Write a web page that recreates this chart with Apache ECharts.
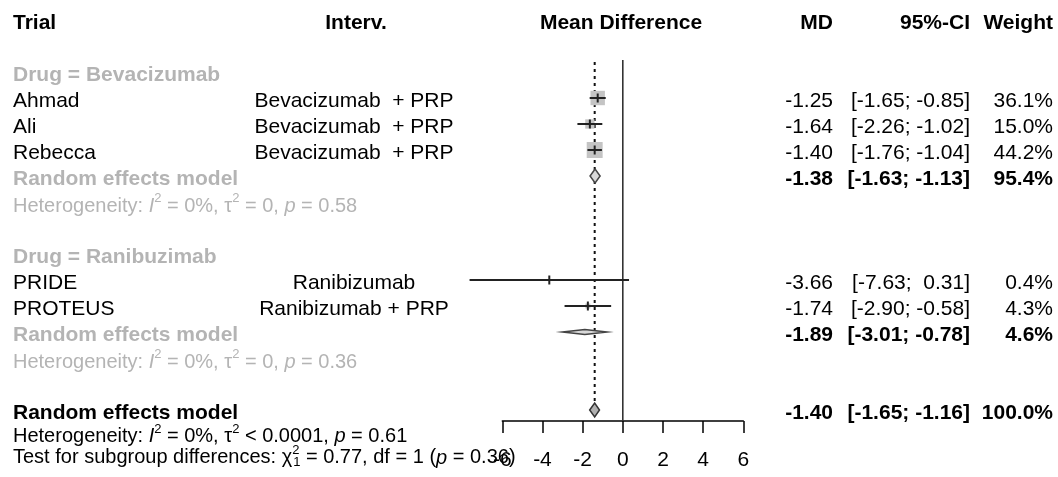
<!DOCTYPE html>
<html><head><meta charset="utf-8">
<script src="https://cdn.jsdelivr.net/npm/echarts@6/dist/echarts.min.js"></script>
<style>html,body{margin:0;padding:0;background:#fff}#c{width:1058px;height:477px}</style>
</head><body><div id="c"></div>
<script>
// ---------- data ----------
const trials = ['Ahmad', 'Ali', 'Rebecca', 'PRIDE', 'PROTEUS'];
const interventions = ['Bevacizumab  + PRP', 'Bevacizumab  + PRP', 'Bevacizumab  + PRP', 'Ranibizumab', 'Ranibizumab + PRP'];
const studyGroup = [0, 0, 0, 1, 1];
const studyMD = [-1.25, -1.64, -1.40, -3.66, -1.74];
const studyLower = [-1.65, -2.26, -1.76, -7.63, -2.90];
const studyUpper = [-0.85, -1.02, -1.04, 0.31, -0.58];
const studyWeight = [36.1, 15.0, 44.2, 0.4, 4.3];
const groupNames = ['Drug = Bevacizumab', 'Drug = Ranibuzimab'];
const groupMD = [-1.38, -1.89];
const groupLower = [-1.63, -3.01];
const groupUpper = [-1.13, -0.78];
const groupWeight = [95.4, 4.6];
const groupI2 = ['0%', '0%'];
const groupTau2 = ['= 0', '= 0'];
const groupP = ['0.58', '0.36'];
const overallMD = -1.40;
const overallLower = -1.65;
const overallUpper = -1.16;
const overallWeight = 100.0;
const overallI2 = '0%';
const overallTau2 = '< 0.0001';
const overallP = '0.61';
const testChi2 = '0.77';
const testDf = '1';
const testP = '0.36';
const xTicks = [-6, -4, -2, 0, 2, 4, 6];
const headers = ['Trial', 'Interv.', 'Mean Difference', 'MD', '95%-CI', 'Weight'];

// ---------- layout / style ----------
const FONT = 'Liberation Sans, Arial, Helvetica, sans-serif';
const GRID_TOP = 20, ROW_H = 26, AXIS_Y = 421;
const GRAY_TXT = '#b4b4b4';
const rowY = r => GRID_TOP + r * ROW_H;
const TXT_OFF = 3;
const SMALL = 20;

// build row structure
let row = 2;
const studyRow = [], groupLabelRow = [], groupRERow = [], groupHetRow = [];
for (let g = 0; g < groupNames.length; g++) {
  groupLabelRow.push(row++);
  studyGroup.forEach((sg, i) => { if (sg === g) studyRow[i] = row++; });
  groupRERow.push(row++);
  groupHetRow.push(row++);
  row++;
}
const overallRow = row;
const overallHetRow = overallRow + 0.92;
const testRow = overallRow + 1.73;

const f2 = v => v.toFixed(2);
const pad = (s, n) => (' '.repeat(Math.max(0, n - s.length))) + s;
const ci = (l, u) => '[' + pad(f2(l), 5) + '; ' + pad(f2(u), 5) + ']';
const wt = w => w.toFixed(1) + '%';

// ---------- texts ----------
const graphics = [];
function txt(x, y, s, o) {
  o = o || {};
  graphics.push({
    type: 'text', x: x, y: y, silent: true,
    style: Object.assign({
      text: s, fill: o.color || '#000',
      fontSize: o.size || 21, fontFamily: FONT, fontWeight: o.bold ? 'bold' : 'normal',
      align: o.align || 'left', textAlign: o.align || 'left',
      verticalAlign: 'middle', textVerticalAlign: 'middle'
    }, o.rich ? { rich: o.rich } : {})
  });
}
const COL = { trial: 13, interv: 354, md: 833, ci: 970, w: 1053 };
// headers
txt(COL.trial, 23, headers[0], { bold: true });
txt(356, 23, headers[1], { bold: true, align: 'center' });
txt(621, 23, headers[2], { bold: true, align: 'center' });
txt(COL.md, 23, headers[3], { bold: true, align: 'right' });
txt(COL.ci, 23, headers[4], { bold: true, align: 'right' });
txt(COL.w, 23, headers[5], { bold: true, align: 'right' });

function richFor(color, size) {
  const base = { fontFamily: FONT, fill: color, color: color };
  return {
    i: Object.assign({ fontStyle: 'italic', fontSize: size }, base),
    s: Object.assign({ fontSize: 13, padding: [0, 0, 15, 0] }, base),
    s0: Object.assign({ fontSize: 13, padding: [0, 0, 15, 0], width: 1 }, base),
    b: Object.assign({ fontSize: 13, padding: [9, 0, 0, 0] }, base),
    n: Object.assign({ fontSize: size }, base)
  };
}
function hetText(I2, tau2, p) {
  return '{n|Heterogeneity: }{i|I}{s|2}{n| = ' + I2 + ', τ}{s|2}{n| ' + tau2 + ', }{i|p}{n| = ' + p + '}';
}

for (let g = 0; g < groupNames.length; g++) {
  txt(COL.trial, rowY(groupLabelRow[g]) + TXT_OFF, groupNames[g], { bold: true, color: GRAY_TXT });
  txt(COL.trial, rowY(groupRERow[g]) + TXT_OFF, 'Random effects model', { bold: true, color: GRAY_TXT });
  txt(COL.md, rowY(groupRERow[g]) + TXT_OFF, f2(groupMD[g]), { bold: true, align: 'right' });
  txt(COL.ci, rowY(groupRERow[g]) + TXT_OFF, ci(groupLower[g], groupUpper[g]), { bold: true, align: 'right' });
  txt(COL.w, rowY(groupRERow[g]) + TXT_OFF, wt(groupWeight[g]), { bold: true, align: 'right' });
  txt(COL.trial, rowY(groupHetRow[g]) + TXT_OFF + 1, hetText(groupI2[g], groupTau2[g], groupP[g]),
      { size: SMALL, color: GRAY_TXT, rich: richFor(GRAY_TXT, SMALL) });
}
trials.forEach((t, i) => {
  const y = rowY(studyRow[i]) + TXT_OFF;
  txt(COL.trial, y, t);
  txt(COL.interv, y, interventions[i], { align: 'center' });
  txt(COL.md, y, f2(studyMD[i]), { align: 'right' });
  txt(COL.ci, y, ci(studyLower[i], studyUpper[i]), { align: 'right' });
  txt(COL.w, y, wt(studyWeight[i]), { align: 'right' });
});
{
  const y = rowY(overallRow) + TXT_OFF;
  txt(COL.trial, y, 'Random effects model', { bold: true });
  txt(COL.md, y, f2(overallMD), { bold: true, align: 'right' });
  txt(COL.ci, y, ci(overallLower, overallUpper), { bold: true, align: 'right' });
  txt(COL.w, y, wt(overallWeight), { bold: true, align: 'right' });
  txt(COL.trial, rowY(overallHetRow) + TXT_OFF, hetText(overallI2, overallTau2, overallP),
      { size: SMALL, rich: richFor('#000', SMALL) });
  txt(COL.trial, rowY(testRow) + TXT_OFF,
      '{n|Test for subgroup differences: χ}{s0|2}{b|1}{n| = ' + testChi2 + ', df = ' + testDf + ' (}{i|p}{n| = ' + testP + ')}',
      { size: SMALL, rich: richFor('#000', SMALL) });
}

// ---------- marks ----------
const BOX_K = 2.4;
const studyData = trials.map((t, i) => [studyMD[i], studyRow[i], studyLower[i], studyUpper[i], studyWeight[i]]);
const diamondData = groupNames.map((g, i) => [groupMD[i], groupRERow[i], groupLower[i], groupUpper[i], i === 0 ? 7 : 2.5, 0]);
diamondData.push([overallMD, overallRow, overallLower, overallUpper, 7, 1]);

const chart = echarts.init(document.getElementById('c'), null, { renderer: 'canvas' });
const yMax = (AXIS_Y - GRID_TOP) / ROW_H;
chart.setOption({
  animation: false,
  backgroundColor: '#fff',
  grid: { left: 502.3, width: 241, top: GRID_TOP, height: AXIS_Y - GRID_TOP, containLabel: false },
  xAxis: {
    type: 'value', min: xTicks[0], max: xTicks[xTicks.length - 1], interval: 2,
    axisLine: { show: true, onZero: false, lineStyle: { color: '#000', width: 1.5 } },
    axisTick: { show: true, length: 12, lineStyle: { color: '#000', width: 1.5 } },
    axisLabel: { fontSize: 21, color: '#000', fontFamily: FONT, margin: 29, showMinLabel: true, showMaxLabel: true },
    splitLine: { show: false }
  },
  yAxis: { type: 'value', min: 0, max: yMax, inverse: true, show: false },
  graphic: graphics,
  series: [
    { // reference lines
      type: 'custom', silent: true, z: 1,
      data: [[0, 1.54, yMax, 0], [overallMD, 1.62, overallRow - 0.25, 1]],
      renderItem: (p, api) => {
        const a = api.coord([api.value(0), api.value(1)]);
        const b = api.coord([api.value(0), api.value(2)]);
        const dotted = api.value(3) === 1;
        return { type: 'line', shape: { x1: a[0], y1: a[1], x2: b[0], y2: b[1] },
          style: { stroke: dotted ? '#111' : '#333', lineWidth: dotted ? 2 : 1.6, lineDash: dotted ? [3, 4] : null } };
      }
    },
    { // studies
      type: 'custom', silent: true, z: 3, clip: false,
      data: studyData,
      renderItem: (p, api) => {
        const c = api.coord([api.value(0), api.value(1)]);
        const l = api.coord([api.value(2), api.value(1)]);
        const u = api.coord([api.value(3), api.value(1)]);
        const side = BOX_K * Math.sqrt(api.value(4));
        return { type: 'group', children: [
          { type: 'rect', shape: { x: c[0] - side / 2, y: c[1] - side / 2, width: side, height: side }, style: { fill: '#c4c4c4' } },
          { type: 'line', shape: { x1: l[0], y1: c[1], x2: u[0], y2: c[1] }, style: { stroke: '#222', lineWidth: 2 } },
          { type: 'line', shape: { x1: c[0], y1: c[1] - 4.5, x2: c[0], y2: c[1] + 4.5 }, style: { stroke: '#222', lineWidth: 2 } }
        ] };
      }
    },
    { // diamonds
      type: 'custom', silent: true, z: 4, clip: false,
      data: diamondData,
      renderItem: (p, api) => {
        const c = api.coord([api.value(0), api.value(1)]);
        const l = api.coord([api.value(2), api.value(1)]);
        const u = api.coord([api.value(3), api.value(1)]);
        const h = api.value(4);
        const overall = api.value(5) === 1;
        return { type: 'polygon', shape: { points: [[l[0], c[1]], [c[0], c[1] - h], [u[0], c[1]], [c[0], c[1] + h]] },
          style: { fill: overall ? '#b0b0b0' : '#d8d8d8', stroke: overall ? '#333' : '#444', lineWidth: 1.5 } };
      }
    }
  ]
});
</script></body></html>
